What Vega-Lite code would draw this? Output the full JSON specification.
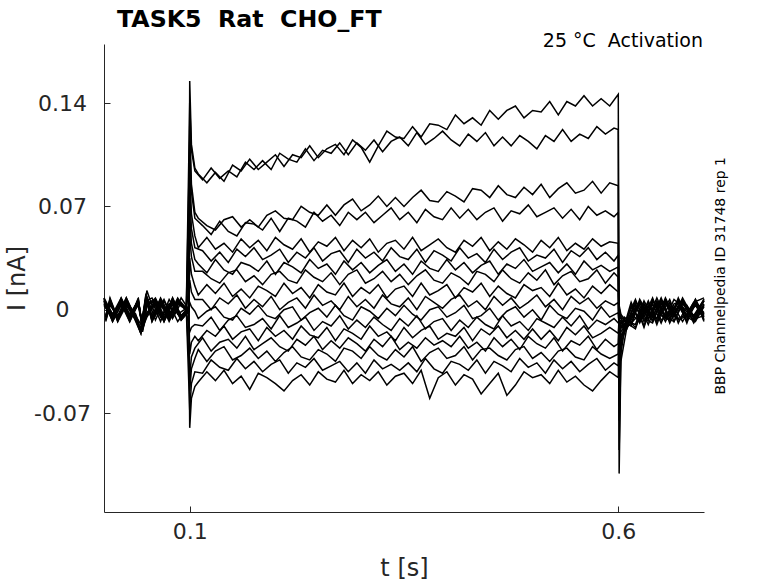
{
  "$schema": "https://vega.github.io/schema/vega-lite/v6.json",
  "autosize": {"type": "none"},
  "padding": {"left": 104, "top": 44, "right": 74, "bottom": 71},
  "width": 600,
  "height": 468,
  "background": "white",
  "config": {
    "view": {"stroke": null},
    "font": "DejaVu Sans",
    "axis": {
      "grid": false,
      "domainColor": "#262626",
      "tickColor": "#262626",
      "labelColor": "#262626",
      "titleColor": "#262626",
      "labelFont": "DejaVu Sans",
      "titleFont": "DejaVu Sans",
      "labelFontSize": 22,
      "titleFontSize": 24,
      "titleFontWeight": "normal",
      "tickSize": -6
    }
  },
  "datasets": {
    "traces": [
{"k":1,"t":0,"i":5},{"k":1,"t":10,"i":-6},{"k":1,"t":20,"i":7},{"k":1,"t":30,"i":-4},{"k":1,"t":40,"i":3},{"k":1,"t":45,"i":-12},{"k":1,"t":50,"i":9},{"k":1,"t":60,"i":-7},{"k":1,"t":70,"i":6},{"k":1,"t":80,"i":-5},{"k":1,"t":90,"i":8},{"k":1,"t":99,"i":0},{"k":1,"t":100,"i":155},{"k":1,"t":102,"i":112},{"k":1,"t":106,"i":96},
{"k":1,"t":110,"i":92},{"k":1,"t":120,"i":86},{"k":1,"t":130,"i":93},{"k":1,"t":140,"i":87},{"k":1,"t":150,"i":98},{"k":1,"t":160,"i":94},{"k":1,"t":170,"i":102},{"k":1,"t":180,"i":95},{"k":1,"t":190,"i":100},{"k":1,"t":200,"i":105},{"k":1,"t":210,"i":97},{"k":1,"t":220,"i":105},{"k":1,"t":230,"i":103},{"k":1,"t":240,"i":111},{"k":1,"t":250,"i":103},{"k":1,"t":260,"i":109},{"k":1,"t":270,"i":112},{"k":1,"t":280,"i":105},{"k":1,"t":290,"i":115},{"k":1,"t":300,"i":110},{"k":1,"t":310,"i":100},{"k":1,"t":320,"i":111},{"k":1,"t":330,"i":121},{"k":1,"t":340,"i":117},{"k":1,"t":350,"i":116},{"k":1,"t":360,"i":124},{"k":1,"t":370,"i":117},{"k":1,"t":380,"i":126},{"k":1,"t":390,"i":125},{"k":1,"t":400,"i":122},{"k":1,"t":410,"i":132},{"k":1,"t":420,"i":126},{"k":1,"t":430,"i":130},{"k":1,"t":440,"i":125},{"k":1,"t":450,"i":135},{"k":1,"t":460,"i":129},{"k":1,"t":470,"i":135},{"k":1,"t":480,"i":138},{"k":1,"t":490,"i":130},{"k":1,"t":500,"i":135},{"k":1,"t":510,"i":134},{"k":1,"t":520,"i":141},{"k":1,"t":530,"i":132},{"k":1,"t":540,"i":141},{"k":1,"t":550,"i":138},{"k":1,"t":560,"i":145},{"k":1,"t":570,"i":138},{"k":1,"t":580,"i":143},{"k":1,"t":590,"i":138},
{"k":1,"t":600,"i":146},{"k":1,"t":601,"i":-111},{"k":1,"t":603,"i":-35},{"k":1,"t":610,"i":-12},{"k":1,"t":620,"i":-6},{"k":1,"t":630,"i":4},{"k":1,"t":640,"i":-8},{"k":1,"t":650,"i":5},{"k":1,"t":660,"i":-6},{"k":1,"t":670,"i":7},{"k":1,"t":680,"i":-4},{"k":1,"t":690,"i":6},{"k":1,"t":700,"i":-7},
{"k":2,"t":2,"i":-7},{"k":2,"t":7,"i":4},{"k":2,"t":16,"i":-5},{"k":2,"t":26,"i":8},{"k":2,"t":37,"i":-6},{"k":2,"t":43,"i":-15},{"k":2,"t":49,"i":4},{"k":2,"t":56,"i":6},{"k":2,"t":66,"i":-8},{"k":2,"t":76,"i":7},{"k":2,"t":86,"i":-3},{"k":2,"t":96,"i":1},{"k":2,"t":100,"i":140},{"k":2,"t":102,"i":108},{"k":2,"t":106,"i":94},
{"k":2,"t":115,"i":88},{"k":2,"t":125,"i":96},{"k":2,"t":135,"i":89},{"k":2,"t":145,"i":94},{"k":2,"t":155,"i":90},{"k":2,"t":165,"i":100},{"k":2,"t":175,"i":95},{"k":2,"t":185,"i":101},{"k":2,"t":195,"i":95},{"k":2,"t":205,"i":106},{"k":2,"t":215,"i":102},{"k":2,"t":225,"i":100},{"k":2,"t":235,"i":109},{"k":2,"t":245,"i":101},{"k":2,"t":255,"i":108},{"k":2,"t":265,"i":106},{"k":2,"t":275,"i":113},{"k":2,"t":285,"i":105},{"k":2,"t":295,"i":113},{"k":2,"t":305,"i":108},{"k":2,"t":315,"i":115},{"k":2,"t":325,"i":107},{"k":2,"t":335,"i":114},{"k":2,"t":345,"i":117},{"k":2,"t":355,"i":111},{"k":2,"t":365,"i":120},{"k":2,"t":375,"i":112},{"k":2,"t":385,"i":116},{"k":2,"t":395,"i":121},{"k":2,"t":405,"i":115},{"k":2,"t":415,"i":111},{"k":2,"t":425,"i":119},{"k":2,"t":435,"i":114},{"k":2,"t":445,"i":120},{"k":2,"t":455,"i":111},{"k":2,"t":465,"i":117},{"k":2,"t":475,"i":111},{"k":2,"t":485,"i":118},{"k":2,"t":495,"i":114},{"k":2,"t":505,"i":109},{"k":2,"t":515,"i":118},{"k":2,"t":525,"i":114},{"k":2,"t":535,"i":122},{"k":2,"t":545,"i":114},{"k":2,"t":555,"i":119},{"k":2,"t":565,"i":116},{"k":2,"t":575,"i":124},{"k":2,"t":585,"i":119},{"k":2,"t":595,"i":123},
{"k":2,"t":600,"i":122},{"k":2,"t":601,"i":-95},{"k":2,"t":603,"i":-30},{"k":2,"t":607,"i":-14},{"k":2,"t":615,"i":3},{"k":2,"t":625,"i":-7},{"k":2,"t":635,"i":6},{"k":2,"t":645,"i":-8},{"k":2,"t":655,"i":4},{"k":2,"t":665,"i":-5},{"k":2,"t":675,"i":8},{"k":2,"t":688,"i":-6},{"k":2,"t":700,"i":3},
{"k":3,"t":0,"i":6},{"k":3,"t":10,"i":-3},{"k":3,"t":20,"i":8},{"k":3,"t":30,"i":-7},{"k":3,"t":40,"i":5},{"k":3,"t":45,"i":-10},{"k":3,"t":50,"i":13},{"k":3,"t":60,"i":-4},{"k":3,"t":70,"i":7},{"k":3,"t":80,"i":-6},{"k":3,"t":90,"i":5},{"k":3,"t":99,"i":-1},{"k":3,"t":100,"i":125},{"k":3,"t":102,"i":85},{"k":3,"t":106,"i":66},
{"k":3,"t":110,"i":62},{"k":3,"t":120,"i":57},{"k":3,"t":130,"i":54},{"k":3,"t":140,"i":61},{"k":3,"t":150,"i":63},{"k":3,"t":160,"i":56},{"k":3,"t":170,"i":61},{"k":3,"t":180,"i":56},{"k":3,"t":190,"i":64},{"k":3,"t":200,"i":67},{"k":3,"t":210,"i":62},{"k":3,"t":220,"i":61},{"k":3,"t":230,"i":70},{"k":3,"t":240,"i":66},{"k":3,"t":250,"i":64},{"k":3,"t":260,"i":71},{"k":3,"t":270,"i":64},{"k":3,"t":280,"i":71},{"k":3,"t":290,"i":75},{"k":3,"t":300,"i":67},{"k":3,"t":310,"i":71},{"k":3,"t":320,"i":77},{"k":3,"t":330,"i":70},{"k":3,"t":340,"i":76},{"k":3,"t":350,"i":70},{"k":3,"t":360,"i":76},{"k":3,"t":370,"i":81},{"k":3,"t":380,"i":74},{"k":3,"t":390,"i":73},{"k":3,"t":400,"i":80},{"k":3,"t":410,"i":77},{"k":3,"t":420,"i":73},{"k":3,"t":430,"i":82},{"k":3,"t":440,"i":81},{"k":3,"t":450,"i":76},{"k":3,"t":460,"i":84},{"k":3,"t":470,"i":78},{"k":3,"t":480,"i":76},{"k":3,"t":490,"i":83},{"k":3,"t":500,"i":78},{"k":3,"t":510,"i":85},{"k":3,"t":520,"i":76},{"k":3,"t":530,"i":82},{"k":3,"t":540,"i":86},{"k":3,"t":550,"i":79},{"k":3,"t":560,"i":81},{"k":3,"t":570,"i":87},{"k":3,"t":580,"i":79},{"k":3,"t":590,"i":86},
{"k":3,"t":600,"i":84},{"k":3,"t":601,"i":-75},{"k":3,"t":603,"i":-25},{"k":3,"t":610,"i":-8},{"k":3,"t":620,"i":-10},{"k":3,"t":630,"i":6},{"k":3,"t":640,"i":-5},{"k":3,"t":650,"i":7},{"k":3,"t":660,"i":-9},{"k":3,"t":670,"i":3},{"k":3,"t":680,"i":-7},{"k":3,"t":690,"i":5},{"k":3,"t":700,"i":-2},
{"k":4,"t":2,"i":-5},{"k":4,"t":7,"i":7},{"k":4,"t":16,"i":-8},{"k":4,"t":26,"i":3},{"k":4,"t":37,"i":-7},{"k":4,"t":43,"i":-16},{"k":4,"t":49,"i":6},{"k":4,"t":56,"i":8},{"k":4,"t":66,"i":-5},{"k":4,"t":76,"i":4},{"k":4,"t":86,"i":-8},{"k":4,"t":96,"i":0},{"k":4,"t":100,"i":115},{"k":4,"t":102,"i":80},{"k":4,"t":106,"i":62},
{"k":4,"t":115,"i":57},{"k":4,"t":125,"i":51},{"k":4,"t":135,"i":60},{"k":4,"t":145,"i":53},{"k":4,"t":155,"i":50},{"k":4,"t":165,"i":59},{"k":4,"t":175,"i":58},{"k":4,"t":185,"i":54},{"k":4,"t":195,"i":62},{"k":4,"t":205,"i":53},{"k":4,"t":215,"i":62},{"k":4,"t":225,"i":60},{"k":4,"t":235,"i":56},{"k":4,"t":245,"i":66},{"k":4,"t":255,"i":60},{"k":4,"t":265,"i":64},{"k":4,"t":275,"i":57},{"k":4,"t":285,"i":66},{"k":4,"t":295,"i":61},{"k":4,"t":305,"i":66},{"k":4,"t":315,"i":59},{"k":4,"t":325,"i":64},{"k":4,"t":335,"i":69},{"k":4,"t":345,"i":61},{"k":4,"t":355,"i":66},{"k":4,"t":365,"i":59},{"k":4,"t":375,"i":68},{"k":4,"t":385,"i":63},{"k":4,"t":395,"i":61},{"k":4,"t":405,"i":69},{"k":4,"t":415,"i":62},{"k":4,"t":425,"i":68},{"k":4,"t":435,"i":61},{"k":4,"t":445,"i":66},{"k":4,"t":455,"i":69},{"k":4,"t":465,"i":60},{"k":4,"t":475,"i":67},{"k":4,"t":485,"i":65},{"k":4,"t":495,"i":71},{"k":4,"t":505,"i":63},{"k":4,"t":515,"i":66},{"k":4,"t":525,"i":69},{"k":4,"t":535,"i":62},{"k":4,"t":545,"i":68},{"k":4,"t":555,"i":61},{"k":4,"t":565,"i":70},{"k":4,"t":575,"i":64},{"k":4,"t":585,"i":67},{"k":4,"t":595,"i":63},
{"k":4,"t":600,"i":66},{"k":4,"t":601,"i":-65},{"k":4,"t":603,"i":-22},{"k":4,"t":607,"i":-11},{"k":4,"t":615,"i":5},{"k":4,"t":625,"i":-9},{"k":4,"t":635,"i":3},{"k":4,"t":645,"i":-6},{"k":4,"t":655,"i":7},{"k":4,"t":665,"i":-8},{"k":4,"t":675,"i":4},{"k":4,"t":688,"i":-5},{"k":4,"t":700,"i":6},
{"k":5,"t":0,"i":8},{"k":5,"t":10,"i":-8},{"k":5,"t":20,"i":4},{"k":5,"t":30,"i":-6},{"k":5,"t":40,"i":7},{"k":5,"t":45,"i":-13},{"k":5,"t":50,"i":-2},{"k":5,"t":60,"i":5},{"k":5,"t":70,"i":-7},{"k":5,"t":80,"i":8},{"k":5,"t":90,"i":-4},{"k":5,"t":99,"i":2},{"k":5,"t":100,"i":95},{"k":5,"t":102,"i":65},{"k":5,"t":106,"i":50},
{"k":5,"t":110,"i":42},{"k":5,"t":120,"i":49},{"k":5,"t":130,"i":41},{"k":5,"t":140,"i":45},{"k":5,"t":150,"i":39},{"k":5,"t":160,"i":48},{"k":5,"t":170,"i":42},{"k":5,"t":180,"i":47},{"k":5,"t":190,"i":40},{"k":5,"t":200,"i":49},{"k":5,"t":210,"i":44},{"k":5,"t":220,"i":41},{"k":5,"t":230,"i":48},{"k":5,"t":240,"i":39},{"k":5,"t":250,"i":46},{"k":5,"t":260,"i":43},{"k":5,"t":270,"i":49},{"k":5,"t":280,"i":40},{"k":5,"t":290,"i":47},{"k":5,"t":300,"i":42},{"k":5,"t":310,"i":48},{"k":5,"t":320,"i":39},{"k":5,"t":330,"i":45},{"k":5,"t":340,"i":47},{"k":5,"t":350,"i":41},{"k":5,"t":360,"i":49},{"k":5,"t":370,"i":40},{"k":5,"t":380,"i":44},{"k":5,"t":390,"i":48},{"k":5,"t":400,"i":42},{"k":5,"t":410,"i":39},{"k":5,"t":420,"i":47},{"k":5,"t":430,"i":43},{"k":5,"t":440,"i":49},{"k":5,"t":450,"i":40},{"k":5,"t":460,"i":46},{"k":5,"t":470,"i":41},{"k":5,"t":480,"i":48},{"k":5,"t":490,"i":44},{"k":5,"t":500,"i":39},{"k":5,"t":510,"i":47},{"k":5,"t":520,"i":42},{"k":5,"t":530,"i":49},{"k":5,"t":540,"i":40},{"k":5,"t":550,"i":45},{"k":5,"t":560,"i":41},{"k":5,"t":570,"i":48},{"k":5,"t":580,"i":43},{"k":5,"t":590,"i":46},
{"k":5,"t":600,"i":45},{"k":5,"t":601,"i":-55},{"k":5,"t":603,"i":-20},{"k":5,"t":610,"i":-6},{"k":5,"t":620,"i":-12},{"k":5,"t":630,"i":2},{"k":5,"t":640,"i":-7},{"k":5,"t":650,"i":4},{"k":5,"t":660,"i":-4},{"k":5,"t":670,"i":6},{"k":5,"t":680,"i":-9},{"k":5,"t":690,"i":7},{"k":5,"t":700,"i":-4},
{"k":6,"t":2,"i":-4},{"k":6,"t":7,"i":6},{"k":6,"t":16,"i":-7},{"k":6,"t":26,"i":5},{"k":6,"t":37,"i":-3},{"k":6,"t":43,"i":-14},{"k":6,"t":49,"i":10},{"k":6,"t":56,"i":-8},{"k":6,"t":66,"i":4},{"k":6,"t":76,"i":-7},{"k":6,"t":86,"i":7},{"k":6,"t":96,"i":-1},{"k":6,"t":100,"i":80},{"k":6,"t":102,"i":55},{"k":6,"t":106,"i":42},
{"k":6,"t":115,"i":40},{"k":6,"t":125,"i":33},{"k":6,"t":135,"i":39},{"k":6,"t":145,"i":32},{"k":6,"t":155,"i":41},{"k":6,"t":165,"i":36},{"k":6,"t":175,"i":42},{"k":6,"t":185,"i":34},{"k":6,"t":195,"i":37},{"k":6,"t":205,"i":41},{"k":6,"t":215,"i":32},{"k":6,"t":225,"i":39},{"k":6,"t":235,"i":35},{"k":6,"t":245,"i":42},{"k":6,"t":255,"i":33},{"k":6,"t":265,"i":38},{"k":6,"t":275,"i":40},{"k":6,"t":285,"i":32},{"k":6,"t":295,"i":41},{"k":6,"t":305,"i":35},{"k":6,"t":315,"i":39},{"k":6,"t":325,"i":33},{"k":6,"t":335,"i":42},{"k":6,"t":345,"i":36},{"k":6,"t":355,"i":34},{"k":6,"t":365,"i":41},{"k":6,"t":375,"i":32},{"k":6,"t":385,"i":40},{"k":6,"t":395,"i":37},{"k":6,"t":405,"i":33},{"k":6,"t":415,"i":42},{"k":6,"t":425,"i":35},{"k":6,"t":435,"i":38},{"k":6,"t":445,"i":32},{"k":6,"t":455,"i":41},{"k":6,"t":465,"i":34},{"k":6,"t":475,"i":39},{"k":6,"t":485,"i":42},{"k":6,"t":495,"i":33},{"k":6,"t":505,"i":37},{"k":6,"t":515,"i":35},{"k":6,"t":525,"i":41},{"k":6,"t":535,"i":32},{"k":6,"t":545,"i":40},{"k":6,"t":555,"i":36},{"k":6,"t":565,"i":42},{"k":6,"t":575,"i":34},{"k":6,"t":585,"i":39},{"k":6,"t":595,"i":33},
{"k":6,"t":600,"i":37},{"k":6,"t":601,"i":-45},{"k":6,"t":603,"i":-17},{"k":6,"t":607,"i":-15},{"k":6,"t":615,"i":-3},{"k":6,"t":625,"i":-8},{"k":6,"t":635,"i":5},{"k":6,"t":645,"i":-10},{"k":6,"t":655,"i":6},{"k":6,"t":665,"i":-3},{"k":6,"t":675,"i":5},{"k":6,"t":688,"i":-8},{"k":6,"t":700,"i":4},
{"k":7,"t":0,"i":7},{"k":7,"t":10,"i":-5},{"k":7,"t":20,"i":6},{"k":7,"t":30,"i":-8},{"k":7,"t":40,"i":4},{"k":7,"t":45,"i":-11},{"k":7,"t":50,"i":3},{"k":7,"t":60,"i":7},{"k":7,"t":70,"i":-6},{"k":7,"t":80,"i":5},{"k":7,"t":90,"i":-6},{"k":7,"t":99,"i":0},{"k":7,"t":100,"i":65},{"k":7,"t":102,"i":45},{"k":7,"t":106,"i":34},
{"k":7,"t":110,"i":31},{"k":7,"t":120,"i":25},{"k":7,"t":130,"i":34},{"k":7,"t":140,"i":27},{"k":7,"t":150,"i":24},{"k":7,"t":160,"i":32},{"k":7,"t":170,"i":30},{"k":7,"t":180,"i":26},{"k":7,"t":190,"i":33},{"k":7,"t":200,"i":24},{"k":7,"t":210,"i":32},{"k":7,"t":220,"i":29},{"k":7,"t":230,"i":25},{"k":7,"t":240,"i":34},{"k":7,"t":250,"i":28},{"k":7,"t":260,"i":31},{"k":7,"t":270,"i":24},{"k":7,"t":280,"i":33},{"k":7,"t":290,"i":27},{"k":7,"t":300,"i":32},{"k":7,"t":310,"i":25},{"k":7,"t":320,"i":30},{"k":7,"t":330,"i":34},{"k":7,"t":340,"i":26},{"k":7,"t":350,"i":31},{"k":7,"t":360,"i":24},{"k":7,"t":370,"i":33},{"k":7,"t":380,"i":28},{"k":7,"t":390,"i":26},{"k":7,"t":400,"i":34},{"k":7,"t":410,"i":27},{"k":7,"t":420,"i":32},{"k":7,"t":430,"i":25},{"k":7,"t":440,"i":30},{"k":7,"t":450,"i":33},{"k":7,"t":460,"i":24},{"k":7,"t":470,"i":31},{"k":7,"t":480,"i":28},{"k":7,"t":490,"i":34},{"k":7,"t":500,"i":26},{"k":7,"t":510,"i":29},{"k":7,"t":520,"i":32},{"k":7,"t":530,"i":25},{"k":7,"t":540,"i":31},{"k":7,"t":550,"i":24},{"k":7,"t":560,"i":33},{"k":7,"t":570,"i":27},{"k":7,"t":580,"i":30},{"k":7,"t":590,"i":26},
{"k":7,"t":600,"i":29},{"k":7,"t":601,"i":-38},{"k":7,"t":603,"i":-15},{"k":7,"t":610,"i":-9},{"k":7,"t":620,"i":4},{"k":7,"t":630,"i":-11},{"k":7,"t":640,"i":7},{"k":7,"t":650,"i":-4},{"k":7,"t":660,"i":-7},{"k":7,"t":670,"i":8},{"k":7,"t":680,"i":-5},{"k":7,"t":690,"i":3},{"k":7,"t":700,"i":-6},
{"k":8,"t":2,"i":-8},{"k":8,"t":7,"i":3},{"k":8,"t":16,"i":-4},{"k":8,"t":26,"i":7},{"k":8,"t":37,"i":-8},{"k":8,"t":43,"i":-16},{"k":8,"t":49,"i":8},{"k":8,"t":56,"i":-5},{"k":8,"t":66,"i":8},{"k":8,"t":76,"i":-3},{"k":8,"t":86,"i":6},{"k":8,"t":96,"i":1},{"k":8,"t":100,"i":50},{"k":8,"t":102,"i":36},{"k":8,"t":106,"i":26},
{"k":8,"t":115,"i":26},{"k":8,"t":125,"i":21},{"k":8,"t":135,"i":18},{"k":8,"t":145,"i":25},{"k":8,"t":155,"i":27},{"k":8,"t":165,"i":19},{"k":8,"t":175,"i":23},{"k":8,"t":185,"i":17},{"k":8,"t":195,"i":24},{"k":8,"t":205,"i":26},{"k":8,"t":215,"i":20},{"k":8,"t":225,"i":18},{"k":8,"t":235,"i":27},{"k":8,"t":245,"i":22},{"k":8,"t":255,"i":19},{"k":8,"t":265,"i":25},{"k":8,"t":275,"i":17},{"k":8,"t":285,"i":24},{"k":8,"t":295,"i":27},{"k":8,"t":305,"i":18},{"k":8,"t":315,"i":21},{"k":8,"t":325,"i":26},{"k":8,"t":335,"i":19},{"k":8,"t":345,"i":24},{"k":8,"t":355,"i":17},{"k":8,"t":365,"i":23},{"k":8,"t":375,"i":27},{"k":8,"t":385,"i":20},{"k":8,"t":395,"i":18},{"k":8,"t":405,"i":25},{"k":8,"t":415,"i":22},{"k":8,"t":425,"i":17},{"k":8,"t":435,"i":26},{"k":8,"t":445,"i":24},{"k":8,"t":455,"i":19},{"k":8,"t":465,"i":27},{"k":8,"t":475,"i":21},{"k":8,"t":485,"i":18},{"k":8,"t":495,"i":25},{"k":8,"t":505,"i":20},{"k":8,"t":515,"i":27},{"k":8,"t":525,"i":17},{"k":8,"t":535,"i":23},{"k":8,"t":545,"i":26},{"k":8,"t":555,"i":19},{"k":8,"t":565,"i":21},{"k":8,"t":575,"i":27},{"k":8,"t":585,"i":18},{"k":8,"t":595,"i":25},
{"k":8,"t":600,"i":22},{"k":8,"t":601,"i":-30},{"k":8,"t":603,"i":-13},{"k":8,"t":607,"i":-5},{"k":8,"t":615,"i":-9},{"k":8,"t":625,"i":5},{"k":8,"t":635,"i":-6},{"k":8,"t":645,"i":8},{"k":8,"t":655,"i":-5},{"k":8,"t":665,"i":-8},{"k":8,"t":675,"i":6},{"k":8,"t":688,"i":-4},{"k":8,"t":700,"i":7},
{"k":9,"t":0,"i":4},{"k":9,"t":10,"i":-7},{"k":9,"t":20,"i":8},{"k":9,"t":30,"i":-3},{"k":9,"t":40,"i":6},{"k":9,"t":45,"i":-12},{"k":9,"t":50,"i":-5},{"k":9,"t":60,"i":4},{"k":9,"t":70,"i":-8},{"k":9,"t":80,"i":6},{"k":9,"t":90,"i":-7},{"k":9,"t":99,"i":-1},{"k":9,"t":100,"i":35},{"k":9,"t":102,"i":24},{"k":9,"t":106,"i":16},
{"k":9,"t":110,"i":10},{"k":9,"t":120,"i":17},{"k":9,"t":130,"i":11},{"k":9,"t":140,"i":18},{"k":9,"t":150,"i":9},{"k":9,"t":160,"i":14},{"k":9,"t":170,"i":8},{"k":9,"t":180,"i":16},{"k":9,"t":190,"i":13},{"k":9,"t":200,"i":9},{"k":9,"t":210,"i":18},{"k":9,"t":220,"i":11},{"k":9,"t":230,"i":15},{"k":9,"t":240,"i":8},{"k":9,"t":250,"i":17},{"k":9,"t":260,"i":12},{"k":9,"t":270,"i":10},{"k":9,"t":280,"i":18},{"k":9,"t":290,"i":9},{"k":9,"t":300,"i":15},{"k":9,"t":310,"i":11},{"k":9,"t":320,"i":17},{"k":9,"t":330,"i":8},{"k":9,"t":340,"i":14},{"k":9,"t":350,"i":16},{"k":9,"t":360,"i":9},{"k":9,"t":370,"i":18},{"k":9,"t":380,"i":10},{"k":9,"t":390,"i":13},{"k":9,"t":400,"i":17},{"k":9,"t":410,"i":8},{"k":9,"t":420,"i":15},{"k":9,"t":430,"i":12},{"k":9,"t":440,"i":18},{"k":9,"t":450,"i":9},{"k":9,"t":460,"i":16},{"k":9,"t":470,"i":11},{"k":9,"t":480,"i":8},{"k":9,"t":490,"i":17},{"k":9,"t":500,"i":13},{"k":9,"t":510,"i":15},{"k":9,"t":520,"i":9},{"k":9,"t":530,"i":18},{"k":9,"t":540,"i":10},{"k":9,"t":550,"i":14},{"k":9,"t":560,"i":8},{"k":9,"t":570,"i":16},{"k":9,"t":580,"i":11},{"k":9,"t":590,"i":17},
{"k":9,"t":600,"i":12},{"k":9,"t":601,"i":-22},{"k":9,"t":603,"i":-11},{"k":9,"t":610,"i":-13},{"k":9,"t":620,"i":2},{"k":9,"t":630,"i":-6},{"k":9,"t":640,"i":-9},{"k":9,"t":650,"i":6},{"k":9,"t":660,"i":3},{"k":9,"t":670,"i":-6},{"k":9,"t":680,"i":-3},{"k":9,"t":690,"i":7},{"k":9,"t":700,"i":-8},
{"k":10,"t":2,"i":-6},{"k":10,"t":7,"i":8},{"k":10,"t":16,"i":-6},{"k":10,"t":26,"i":4},{"k":10,"t":37,"i":-5},{"k":10,"t":43,"i":-13},{"k":10,"t":49,"i":11},{"k":10,"t":56,"i":-6},{"k":10,"t":66,"i":5},{"k":10,"t":76,"i":-8},{"k":10,"t":86,"i":4},{"k":10,"t":96,"i":0},{"k":10,"t":100,"i":20},{"k":10,"t":102,"i":12},{"k":10,"t":106,"i":7},
{"k":10,"t":115,"i":7},{"k":10,"t":125,"i":0},{"k":10,"t":135,"i":8},{"k":10,"t":145,"i":4},{"k":10,"t":155,"i":10},{"k":10,"t":165,"i":1},{"k":10,"t":175,"i":7},{"k":10,"t":185,"i":2},{"k":10,"t":195,"i":9},{"k":10,"t":205,"i":0},{"k":10,"t":215,"i":5},{"k":10,"t":225,"i":8},{"k":10,"t":235,"i":1},{"k":10,"t":245,"i":10},{"k":10,"t":255,"i":3},{"k":10,"t":265,"i":6},{"k":10,"t":275,"i":0},{"k":10,"t":285,"i":9},{"k":10,"t":295,"i":2},{"k":10,"t":305,"i":7},{"k":10,"t":315,"i":1},{"k":10,"t":325,"i":10},{"k":10,"t":335,"i":4},{"k":10,"t":345,"i":2},{"k":10,"t":355,"i":8},{"k":10,"t":365,"i":0},{"k":10,"t":375,"i":9},{"k":10,"t":385,"i":5},{"k":10,"t":395,"i":1},{"k":10,"t":405,"i":7},{"k":10,"t":415,"i":10},{"k":10,"t":425,"i":2},{"k":10,"t":435,"i":6},{"k":10,"t":445,"i":0},{"k":10,"t":455,"i":9},{"k":10,"t":465,"i":3},{"k":10,"t":475,"i":8},{"k":10,"t":485,"i":1},{"k":10,"t":495,"i":5},{"k":10,"t":505,"i":10},{"k":10,"t":515,"i":2},{"k":10,"t":525,"i":7},{"k":10,"t":535,"i":0},{"k":10,"t":545,"i":9},{"k":10,"t":555,"i":4},{"k":10,"t":565,"i":8},{"k":10,"t":575,"i":1},{"k":10,"t":585,"i":6},{"k":10,"t":595,"i":3},
{"k":10,"t":600,"i":5},{"k":10,"t":601,"i":-16},{"k":10,"t":603,"i":-9},{"k":10,"t":607,"i":-7},{"k":10,"t":615,"i":-11},{"k":10,"t":625,"i":7},{"k":10,"t":635,"i":-3},{"k":10,"t":645,"i":-6},{"k":10,"t":655,"i":8},{"k":10,"t":665,"i":-4},{"k":10,"t":675,"i":7},{"k":10,"t":688,"i":-9},{"k":10,"t":700,"i":2},
{"k":11,"t":0,"i":7},{"k":11,"t":10,"i":-4},{"k":11,"t":20,"i":5},{"k":11,"t":30,"i":-7},{"k":11,"t":40,"i":8},{"k":11,"t":45,"i":-15},{"k":11,"t":50,"i":2},{"k":11,"t":60,"i":8},{"k":11,"t":70,"i":-4},{"k":11,"t":80,"i":7},{"k":11,"t":90,"i":-5},{"k":11,"t":99,"i":2},{"k":11,"t":100,"i":5},{"k":11,"t":102,"i":2},{"k":11,"t":106,"i":-1},
{"k":11,"t":110,"i":-6},{"k":11,"t":120,"i":-1},{"k":11,"t":130,"i":2},{"k":11,"t":140,"i":-5},{"k":11,"t":150,"i":-7},{"k":11,"t":160,"i":1},{"k":11,"t":170,"i":-3},{"k":11,"t":180,"i":3},{"k":11,"t":190,"i":-4},{"k":11,"t":200,"i":-6},{"k":11,"t":210,"i":0},{"k":11,"t":220,"i":2},{"k":11,"t":230,"i":-7},{"k":11,"t":240,"i":-2},{"k":11,"t":250,"i":1},{"k":11,"t":260,"i":-5},{"k":11,"t":270,"i":3},{"k":11,"t":280,"i":-4},{"k":11,"t":290,"i":-7},{"k":11,"t":300,"i":2},{"k":11,"t":310,"i":-1},{"k":11,"t":320,"i":-6},{"k":11,"t":330,"i":1},{"k":11,"t":340,"i":-4},{"k":11,"t":350,"i":3},{"k":11,"t":360,"i":-3},{"k":11,"t":370,"i":-7},{"k":11,"t":380,"i":0},{"k":11,"t":390,"i":2},{"k":11,"t":400,"i":-5},{"k":11,"t":410,"i":-2},{"k":11,"t":420,"i":3},{"k":11,"t":430,"i":-6},{"k":11,"t":440,"i":-4},{"k":11,"t":450,"i":1},{"k":11,"t":460,"i":-7},{"k":11,"t":470,"i":-1},{"k":11,"t":480,"i":2},{"k":11,"t":490,"i":-5},{"k":11,"t":500,"i":0},{"k":11,"t":510,"i":-7},{"k":11,"t":520,"i":3},{"k":11,"t":530,"i":-3},{"k":11,"t":540,"i":-6},{"k":11,"t":550,"i":1},{"k":11,"t":560,"i":-1},{"k":11,"t":570,"i":-7},{"k":11,"t":580,"i":2},{"k":11,"t":590,"i":-5},
{"k":11,"t":600,"i":-2},{"k":11,"t":601,"i":-12},{"k":11,"t":603,"i":-8},{"k":11,"t":610,"i":-10},{"k":11,"t":620,"i":6},{"k":11,"t":630,"i":-5},{"k":11,"t":640,"i":8},{"k":11,"t":650,"i":-7},{"k":11,"t":660,"i":-3},{"k":11,"t":670,"i":5},{"k":11,"t":680,"i":-8},{"k":11,"t":690,"i":4},{"k":11,"t":700,"i":-5},
{"k":12,"t":2,"i":-5},{"k":12,"t":7,"i":6},{"k":12,"t":16,"i":-8},{"k":12,"t":26,"i":6},{"k":12,"t":37,"i":-4},{"k":12,"t":43,"i":-10},{"k":12,"t":49,"i":7},{"k":12,"t":56,"i":-7},{"k":12,"t":66,"i":6},{"k":12,"t":76,"i":-4},{"k":12,"t":86,"i":8},{"k":12,"t":96,"i":-1},{"k":12,"t":100,"i":-15},{"k":12,"t":102,"i":-12},{"k":12,"t":106,"i":-10},
{"k":12,"t":115,"i":-11},{"k":12,"t":125,"i":-5},{"k":12,"t":135,"i":-14},{"k":12,"t":145,"i":-7},{"k":12,"t":155,"i":-4},{"k":12,"t":165,"i":-12},{"k":12,"t":175,"i":-10},{"k":12,"t":185,"i":-6},{"k":12,"t":195,"i":-13},{"k":12,"t":205,"i":-4},{"k":12,"t":215,"i":-12},{"k":12,"t":225,"i":-9},{"k":12,"t":235,"i":-5},{"k":12,"t":245,"i":-14},{"k":12,"t":255,"i":-8},{"k":12,"t":265,"i":-11},{"k":12,"t":275,"i":-4},{"k":12,"t":285,"i":-13},{"k":12,"t":295,"i":-7},{"k":12,"t":305,"i":-12},{"k":12,"t":315,"i":-5},{"k":12,"t":325,"i":-10},{"k":12,"t":335,"i":-14},{"k":12,"t":345,"i":-6},{"k":12,"t":355,"i":-11},{"k":12,"t":365,"i":-4},{"k":12,"t":375,"i":-13},{"k":12,"t":385,"i":-8},{"k":12,"t":395,"i":-6},{"k":12,"t":405,"i":-14},{"k":12,"t":415,"i":-7},{"k":12,"t":425,"i":-12},{"k":12,"t":435,"i":-5},{"k":12,"t":445,"i":-10},{"k":12,"t":455,"i":-13},{"k":12,"t":465,"i":-4},{"k":12,"t":475,"i":-11},{"k":12,"t":485,"i":-8},{"k":12,"t":495,"i":-14},{"k":12,"t":505,"i":-6},{"k":12,"t":515,"i":-9},{"k":12,"t":525,"i":-12},{"k":12,"t":535,"i":-5},{"k":12,"t":545,"i":-11},{"k":12,"t":555,"i":-4},{"k":12,"t":565,"i":-13},{"k":12,"t":575,"i":-7},{"k":12,"t":585,"i":-10},{"k":12,"t":595,"i":-6},
{"k":12,"t":600,"i":-9},{"k":12,"t":601,"i":-8},{"k":12,"t":603,"i":-7},{"k":12,"t":607,"i":-16},{"k":12,"t":615,"i":-4},{"k":12,"t":625,"i":3},{"k":12,"t":635,"i":-10},{"k":12,"t":645,"i":5},{"k":12,"t":655,"i":-6},{"k":12,"t":665,"i":7},{"k":12,"t":675,"i":2},{"k":12,"t":688,"i":-7},{"k":12,"t":700,"i":6},
{"k":13,"t":0,"i":6},{"k":13,"t":10,"i":-8},{"k":13,"t":20,"i":3},{"k":13,"t":30,"i":-5},{"k":13,"t":40,"i":7},{"k":13,"t":45,"i":-14},{"k":13,"t":50,"i":-3},{"k":13,"t":60,"i":5},{"k":13,"t":70,"i":-7},{"k":13,"t":80,"i":8},{"k":13,"t":90,"i":-6},{"k":13,"t":99,"i":0},{"k":13,"t":100,"i":-30},{"k":13,"t":102,"i":-22},{"k":13,"t":106,"i":-18},
{"k":13,"t":110,"i":-21},{"k":13,"t":120,"i":-14},{"k":13,"t":130,"i":-18},{"k":13,"t":140,"i":-11},{"k":13,"t":150,"i":-20},{"k":13,"t":160,"i":-15},{"k":13,"t":170,"i":-13},{"k":13,"t":180,"i":-21},{"k":13,"t":190,"i":-12},{"k":13,"t":200,"i":-18},{"k":13,"t":210,"i":-14},{"k":13,"t":220,"i":-20},{"k":13,"t":230,"i":-11},{"k":13,"t":240,"i":-17},{"k":13,"t":250,"i":-19},{"k":13,"t":260,"i":-12},{"k":13,"t":270,"i":-21},{"k":13,"t":280,"i":-13},{"k":13,"t":290,"i":-16},{"k":13,"t":300,"i":-20},{"k":13,"t":310,"i":-11},{"k":13,"t":320,"i":-18},{"k":13,"t":330,"i":-15},{"k":13,"t":340,"i":-21},{"k":13,"t":350,"i":-12},{"k":13,"t":360,"i":-19},{"k":13,"t":370,"i":-14},{"k":13,"t":380,"i":-11},{"k":13,"t":390,"i":-20},{"k":13,"t":400,"i":-16},{"k":13,"t":410,"i":-18},{"k":13,"t":420,"i":-12},{"k":13,"t":430,"i":-21},{"k":13,"t":440,"i":-13},{"k":13,"t":450,"i":-17},{"k":13,"t":460,"i":-11},{"k":13,"t":470,"i":-19},{"k":13,"t":480,"i":-14},{"k":13,"t":490,"i":-20},{"k":13,"t":500,"i":-13},{"k":13,"t":510,"i":-20},{"k":13,"t":520,"i":-14},{"k":13,"t":530,"i":-21},{"k":13,"t":540,"i":-12},{"k":13,"t":550,"i":-17},{"k":13,"t":560,"i":-11},{"k":13,"t":570,"i":-19},{"k":13,"t":580,"i":-16},{"k":13,"t":590,"i":-12},
{"k":13,"t":600,"i":-16},{"k":13,"t":601,"i":-5},{"k":13,"t":603,"i":-6},{"k":13,"t":610,"i":-6},{"k":13,"t":620,"i":7},{"k":13,"t":630,"i":-8},{"k":13,"t":640,"i":4},{"k":13,"t":650,"i":-9},{"k":13,"t":660,"i":5},{"k":13,"t":670,"i":-7},{"k":13,"t":680,"i":-4},{"k":13,"t":690,"i":6},{"k":13,"t":700,"i":-3},
{"k":14,"t":2,"i":-7},{"k":14,"t":7,"i":5},{"k":14,"t":16,"i":-5},{"k":14,"t":26,"i":8},{"k":14,"t":37,"i":-6},{"k":14,"t":43,"i":-16},{"k":14,"t":49,"i":9},{"k":14,"t":56,"i":-4},{"k":14,"t":66,"i":7},{"k":14,"t":76,"i":-6},{"k":14,"t":86,"i":5},{"k":14,"t":96,"i":1},{"k":14,"t":100,"i":-45},{"k":14,"t":102,"i":-32},{"k":14,"t":106,"i":-26},
{"k":14,"t":115,"i":-19},{"k":14,"t":125,"i":-28},{"k":14,"t":135,"i":-22},{"k":14,"t":145,"i":-20},{"k":14,"t":155,"i":-26},{"k":14,"t":165,"i":-18},{"k":14,"t":175,"i":-27},{"k":14,"t":185,"i":-23},{"k":14,"t":195,"i":-19},{"k":14,"t":205,"i":-25},{"k":14,"t":215,"i":-28},{"k":14,"t":225,"i":-20},{"k":14,"t":235,"i":-24},{"k":14,"t":245,"i":-18},{"k":14,"t":255,"i":-27},{"k":14,"t":265,"i":-21},{"k":14,"t":275,"i":-26},{"k":14,"t":285,"i":-19},{"k":14,"t":295,"i":-23},{"k":14,"t":305,"i":-28},{"k":14,"t":315,"i":-20},{"k":14,"t":325,"i":-25},{"k":14,"t":335,"i":-18},{"k":14,"t":345,"i":-27},{"k":14,"t":355,"i":-22},{"k":14,"t":365,"i":-26},{"k":14,"t":375,"i":-19},{"k":14,"t":385,"i":-24},{"k":14,"t":395,"i":-21},{"k":14,"t":405,"i":-25},{"k":14,"t":415,"i":-18},{"k":14,"t":425,"i":-26},{"k":14,"t":435,"i":-22},{"k":14,"t":445,"i":-28},{"k":14,"t":455,"i":-19},{"k":14,"t":465,"i":-25},{"k":14,"t":475,"i":-20},{"k":14,"t":485,"i":-27},{"k":14,"t":495,"i":-18},{"k":14,"t":505,"i":-23},{"k":14,"t":515,"i":-26},{"k":14,"t":525,"i":-19},{"k":14,"t":535,"i":-28},{"k":14,"t":545,"i":-21},{"k":14,"t":555,"i":-24},{"k":14,"t":565,"i":-18},{"k":14,"t":575,"i":-27},{"k":14,"t":585,"i":-20},{"k":14,"t":595,"i":-25},
{"k":14,"t":600,"i":-23},{"k":14,"t":601,"i":-3},{"k":14,"t":603,"i":-5},{"k":14,"t":607,"i":-12},{"k":14,"t":615,"i":-7},{"k":14,"t":625,"i":6},{"k":14,"t":635,"i":-4},{"k":14,"t":645,"i":3},{"k":14,"t":655,"i":-8},{"k":14,"t":665,"i":4},{"k":14,"t":675,"i":6},{"k":14,"t":688,"i":-5},{"k":14,"t":700,"i":7},
{"k":15,"t":0,"i":3},{"k":15,"t":10,"i":-6},{"k":15,"t":20,"i":7},{"k":15,"t":30,"i":-4},{"k":15,"t":40,"i":5},{"k":15,"t":45,"i":-12},{"k":15,"t":50,"i":4},{"k":15,"t":60,"i":6},{"k":15,"t":70,"i":-8},{"k":15,"t":80,"i":4},{"k":15,"t":90,"i":-7},{"k":15,"t":99,"i":-1},{"k":15,"t":100,"i":-55},{"k":15,"t":102,"i":-40},{"k":15,"t":106,"i":-33},
{"k":15,"t":110,"i":-27},{"k":15,"t":120,"i":-35},{"k":15,"t":130,"i":-28},{"k":15,"t":140,"i":-25},{"k":15,"t":150,"i":-34},{"k":15,"t":160,"i":-31},{"k":15,"t":170,"i":-26},{"k":15,"t":180,"i":-33},{"k":15,"t":190,"i":-28},{"k":15,"t":200,"i":-35},{"k":15,"t":210,"i":-29},{"k":15,"t":220,"i":-25},{"k":15,"t":230,"i":-32},{"k":15,"t":240,"i":-34},{"k":15,"t":250,"i":-27},{"k":15,"t":260,"i":-30},{"k":15,"t":270,"i":-35},{"k":15,"t":280,"i":-26},{"k":15,"t":290,"i":-28},{"k":15,"t":300,"i":-33},{"k":15,"t":310,"i":-25},{"k":15,"t":320,"i":-31},{"k":15,"t":330,"i":-34},{"k":15,"t":340,"i":-27},{"k":15,"t":350,"i":-32},{"k":15,"t":360,"i":-25},{"k":15,"t":370,"i":-35},{"k":15,"t":380,"i":-29},{"k":15,"t":390,"i":-26},{"k":15,"t":400,"i":-33},{"k":15,"t":410,"i":-31},{"k":15,"t":420,"i":-25},{"k":15,"t":430,"i":-34},{"k":15,"t":440,"i":-27},{"k":15,"t":450,"i":-26},{"k":15,"t":460,"i":-31},{"k":15,"t":470,"i":-34},{"k":15,"t":480,"i":-27},{"k":15,"t":490,"i":-25},{"k":15,"t":500,"i":-33},{"k":15,"t":510,"i":-29},{"k":15,"t":520,"i":-35},{"k":15,"t":530,"i":-28},{"k":15,"t":540,"i":-26},{"k":15,"t":550,"i":-32},{"k":15,"t":560,"i":-34},{"k":15,"t":570,"i":-25},{"k":15,"t":580,"i":-30},{"k":15,"t":590,"i":-33},
{"k":15,"t":600,"i":-30},{"k":15,"t":601,"i":-1},{"k":15,"t":603,"i":-5},{"k":15,"t":610,"i":-8},{"k":15,"t":620,"i":4},{"k":15,"t":630,"i":-12},{"k":15,"t":640,"i":6},{"k":15,"t":650,"i":-3},{"k":15,"t":660,"i":7},{"k":15,"t":670,"i":-9},{"k":15,"t":680,"i":3},{"k":15,"t":690,"i":-6},{"k":15,"t":700,"i":-4},
{"k":16,"t":2,"i":-4},{"k":16,"t":7,"i":7},{"k":16,"t":16,"i":-6},{"k":16,"t":26,"i":5},{"k":16,"t":37,"i":-7},{"k":16,"t":43,"i":-13},{"k":16,"t":49,"i":8},{"k":16,"t":56,"i":-8},{"k":16,"t":66,"i":5},{"k":16,"t":76,"i":-5},{"k":16,"t":86,"i":6},{"k":16,"t":96,"i":0},{"k":16,"t":100,"i":-68},{"k":16,"t":102,"i":-50},{"k":16,"t":106,"i":-42},
{"k":16,"t":115,"i":-43},{"k":16,"t":125,"i":-34},{"k":16,"t":135,"i":-39},{"k":16,"t":145,"i":-41},{"k":16,"t":155,"i":-33},{"k":16,"t":165,"i":-40},{"k":16,"t":175,"i":-35},{"k":16,"t":185,"i":-42},{"k":16,"t":195,"i":-37},{"k":16,"t":205,"i":-34},{"k":16,"t":215,"i":-43},{"k":16,"t":225,"i":-36},{"k":16,"t":235,"i":-39},{"k":16,"t":245,"i":-33},{"k":16,"t":255,"i":-41},{"k":16,"t":265,"i":-38},{"k":16,"t":275,"i":-35},{"k":16,"t":285,"i":-42},{"k":16,"t":295,"i":-36},{"k":16,"t":305,"i":-43},{"k":16,"t":315,"i":-34},{"k":16,"t":325,"i":-40},{"k":16,"t":335,"i":-37},{"k":16,"t":345,"i":-41},{"k":16,"t":355,"i":-36},{"k":16,"t":365,"i":-42},{"k":16,"t":375,"i":-33},{"k":16,"t":385,"i":-40},{"k":16,"t":395,"i":-43},{"k":16,"t":405,"i":-35},{"k":16,"t":415,"i":-37},{"k":16,"t":425,"i":-41},{"k":16,"t":435,"i":-34},{"k":16,"t":445,"i":-43},{"k":16,"t":455,"i":-35},{"k":16,"t":465,"i":-38},{"k":16,"t":475,"i":-42},{"k":16,"t":485,"i":-33},{"k":16,"t":495,"i":-39},{"k":16,"t":505,"i":-36},{"k":16,"t":515,"i":-43},{"k":16,"t":525,"i":-34},{"k":16,"t":535,"i":-40},{"k":16,"t":545,"i":-35},{"k":16,"t":555,"i":-42},{"k":16,"t":565,"i":-37},{"k":16,"t":575,"i":-33},{"k":16,"t":585,"i":-41},{"k":16,"t":595,"i":-36},
{"k":16,"t":600,"i":-38},{"k":16,"t":601,"i":1},{"k":16,"t":603,"i":-4},{"k":16,"t":607,"i":-14},{"k":16,"t":615,"i":-5},{"k":16,"t":625,"i":5},{"k":16,"t":635,"i":-7},{"k":16,"t":645,"i":6},{"k":16,"t":655,"i":-4},{"k":16,"t":665,"i":2},{"k":16,"t":675,"i":-8},{"k":16,"t":688,"i":5},{"k":16,"t":700,"i":8},
{"k":17,"t":0,"i":8},{"k":17,"t":10,"i":-3},{"k":17,"t":20,"i":4},{"k":17,"t":30,"i":-8},{"k":17,"t":40,"i":6},{"k":17,"t":45,"i":-11},{"k":17,"t":50,"i":-4},{"k":17,"t":60,"i":7},{"k":17,"t":70,"i":-6},{"k":17,"t":80,"i":7},{"k":17,"t":90,"i":-4},{"k":17,"t":99,"i":1},{"k":17,"t":100,"i":-80},{"k":17,"t":102,"i":-60},{"k":17,"t":106,"i":-52},
{"k":17,"t":110,"i":-49},{"k":17,"t":120,"i":-42},{"k":17,"t":130,"i":-48},{"k":17,"t":140,"i":-41},{"k":17,"t":150,"i":-50},{"k":17,"t":160,"i":-45},{"k":17,"t":170,"i":-54},{"k":17,"t":180,"i":-43},{"k":17,"t":190,"i":-46},{"k":17,"t":200,"i":-50},{"k":17,"t":210,"i":-55},{"k":17,"t":220,"i":-48},{"k":17,"t":230,"i":-44},{"k":17,"t":240,"i":-51},{"k":17,"t":250,"i":-42},{"k":17,"t":260,"i":-47},{"k":17,"t":270,"i":-49},{"k":17,"t":280,"i":-41},{"k":17,"t":290,"i":-50},{"k":17,"t":300,"i":-44},{"k":17,"t":310,"i":-48},{"k":17,"t":320,"i":-42},{"k":17,"t":330,"i":-51},{"k":17,"t":340,"i":-45},{"k":17,"t":350,"i":-43},{"k":17,"t":360,"i":-50},{"k":17,"t":370,"i":-41},{"k":17,"t":380,"i":-60},{"k":17,"t":390,"i":-46},{"k":17,"t":400,"i":-42},{"k":17,"t":410,"i":-51},{"k":17,"t":420,"i":-44},{"k":17,"t":430,"i":-47},{"k":17,"t":440,"i":-57},{"k":17,"t":450,"i":-50},{"k":17,"t":460,"i":-43},{"k":17,"t":470,"i":-58},{"k":17,"t":480,"i":-51},{"k":17,"t":490,"i":-42},{"k":17,"t":500,"i":-46},{"k":17,"t":510,"i":-44},{"k":17,"t":520,"i":-50},{"k":17,"t":530,"i":-41},{"k":17,"t":540,"i":-49},{"k":17,"t":550,"i":-45},{"k":17,"t":560,"i":-51},{"k":17,"t":570,"i":-55},{"k":17,"t":580,"i":-48},{"k":17,"t":590,"i":-42},
{"k":17,"t":600,"i":-46},{"k":17,"t":601,"i":3},{"k":17,"t":603,"i":-3},{"k":17,"t":610,"i":-9},{"k":17,"t":620,"i":-13},{"k":17,"t":630,"i":4},{"k":17,"t":640,"i":-5},{"k":17,"t":650,"i":8},{"k":17,"t":660,"i":-6},{"k":17,"t":670,"i":5},{"k":17,"t":680,"i":-5},{"k":17,"t":690,"i":-8},{"k":17,"t":700,"i":3}
    ]
  },
  "layer": [
    {
      "data": {"name": "traces"},
      "mark": {"type": "line", "stroke": "#000000", "strokeWidth": 1.5, "interpolate": "linear"},
      "encoding": {
        "x": {
          "field": "t",
          "type": "quantitative",
          "scale": {"domain": [0, 700], "nice": false, "zero": false},
          "axis": {
            "values": [100, 600],
            "labelExpr": "datum.value / 1000",
            "title": "t [s]",
            "labelPadding": 15,
            "titlePadding": 14
          }
        },
        "y": {
          "field": "i",
          "type": "quantitative",
          "scale": {"domain": [-137, 180], "nice": false, "zero": false},
          "axis": {
            "values": [-70, 0, 70, 140],
            "labelExpr": "datum.value / 1000",
            "title": "I [nA]",
            "labelAlign": "center",
            "labelBaseline": "middle",
            "labelPadding": 48,
            "titlePadding": 4
          }
        },
        "detail": {"field": "k", "type": "nominal"}
      }
    },
    {
      "data": {"values": [{}]},
      "mark": {
        "type": "text",
        "text": "TASK5\u00a0\u00a0Rat\u00a0\u00a0CHO_FT",
        "align": "left",
        "baseline": "alphabetic",
        "font": "DejaVu Sans",
        "fontSize": 23.7,
        "fontWeight": "bold",
        "dx": 13,
        "dy": -17,
        "color": "#000000"
      },
      "encoding": {
        "x": {"datum": 0, "type": "quantitative"},
        "y": {"datum": 180, "type": "quantitative"}
      }
    },
    {
      "data": {"values": [{}]},
      "mark": {
        "type": "text",
        "text": "25 °C\u00a0\u00a0Activation",
        "align": "right",
        "baseline": "alphabetic",
        "font": "DejaVu Sans",
        "fontSize": 19,
        "dx": -1,
        "dy": 3,
        "color": "#000000"
      },
      "encoding": {
        "x": {"datum": 700, "type": "quantitative"},
        "y": {"datum": 180, "type": "quantitative"}
      }
    },
    {
      "data": {"values": [{}]},
      "mark": {
        "type": "text",
        "text": "BBP Channelpedia ID 31748 rep 1",
        "angle": 270,
        "align": "center",
        "baseline": "alphabetic",
        "font": "DejaVu Sans",
        "fontSize": 14,
        "color": "#000000"
      },
      "encoding": {
        "x": {"datum": 725, "type": "quantitative"},
        "y": {"datum": 23, "type": "quantitative"}
      }
    }
  ]
}
